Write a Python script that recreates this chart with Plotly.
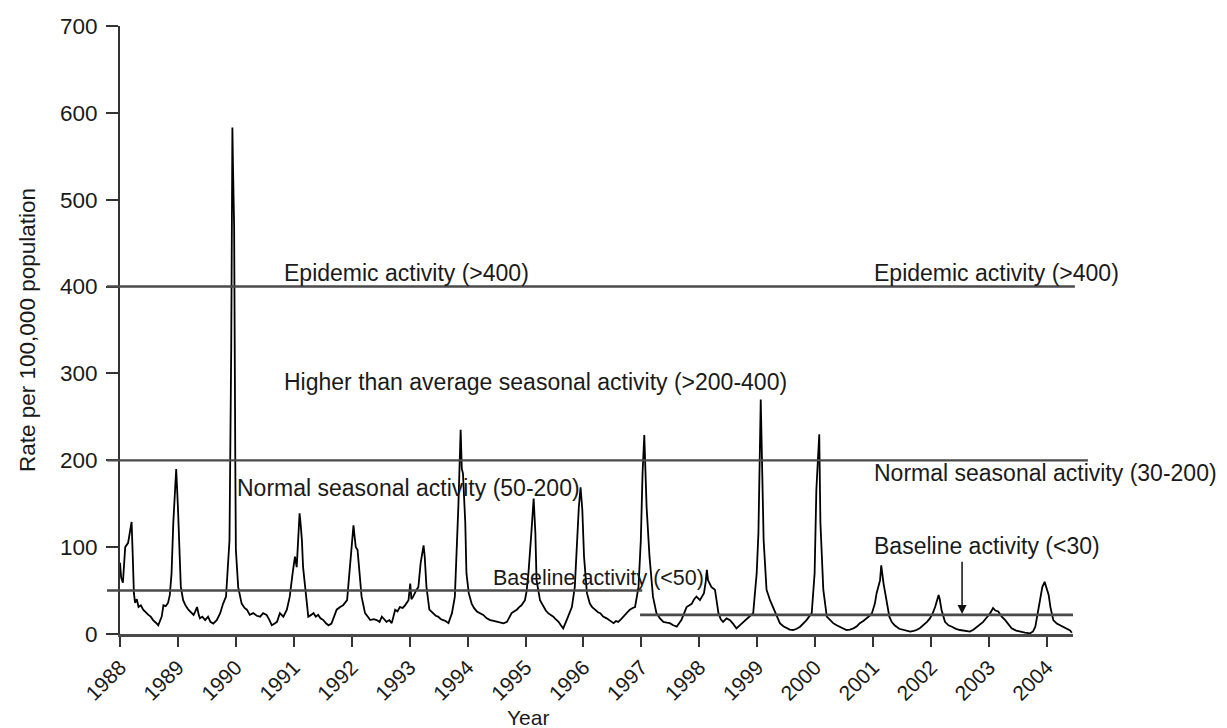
import plotly.graph_objects as go

# ---- data ----
years = [
    1988.00, 1988.02, 1988.05, 1988.09, 1988.14, 1988.17, 1988.20, 1988.22, 1988.24, 1988.26,
    1988.29, 1988.32, 1988.36, 1988.40, 1988.44, 1988.49, 1988.53, 1988.57, 1988.62, 1988.66,
    1988.72, 1988.75, 1988.79, 1988.83, 1988.86, 1988.89, 1988.92, 1988.97, 1989.00, 1989.02,
    1989.05, 1989.09, 1989.13, 1989.18, 1989.23, 1989.27, 1989.30, 1989.33, 1989.36, 1989.38,
    1989.42, 1989.47, 1989.52, 1989.56, 1989.61, 1989.67, 1989.73, 1989.78, 1989.83, 1989.86,
    1989.89, 1989.92, 1989.94, 1989.95, 1989.97, 1989.99, 1990.00, 1990.04, 1990.10, 1990.15,
    1990.19, 1990.24, 1990.30, 1990.36, 1990.42, 1990.47, 1990.53, 1990.58, 1990.62, 1990.67,
    1990.71, 1990.76, 1990.82, 1990.88, 1990.93, 1990.98, 1991.02, 1991.05, 1991.08, 1991.10,
    1991.12, 1991.14, 1991.16, 1991.21, 1991.25, 1991.30, 1991.34, 1991.38, 1991.42, 1991.46,
    1991.51, 1991.56, 1991.60, 1991.65, 1991.70, 1991.74, 1991.80, 1991.85, 1991.92, 1991.96,
    1992.00, 1992.03, 1992.05, 1992.07, 1992.10, 1992.13, 1992.17, 1992.23, 1992.27, 1992.32,
    1992.38, 1992.43, 1992.48, 1992.52, 1992.56, 1992.60, 1992.65, 1992.69, 1992.72, 1992.75,
    1992.79, 1992.83, 1992.88, 1992.92, 1992.98, 1993.01, 1993.03, 1993.06, 1993.12, 1993.15,
    1993.19, 1993.24, 1993.26, 1993.29, 1993.34, 1993.37, 1993.41, 1993.45, 1993.49, 1993.54,
    1993.58, 1993.62, 1993.67, 1993.73, 1993.78, 1993.81, 1993.84, 1993.88, 1993.90, 1993.92,
    1993.96, 1993.98, 1994.02, 1994.07, 1994.11, 1994.16, 1994.22, 1994.27, 1994.33, 1994.39,
    1994.45, 1994.50, 1994.56, 1994.62, 1994.68, 1994.72, 1994.76, 1994.80, 1994.85, 1994.89,
    1994.93, 1994.96, 1994.99, 1995.02, 1995.05, 1995.10, 1995.14, 1995.17, 1995.19, 1995.25,
    1995.31, 1995.35, 1995.39, 1995.44, 1995.48, 1995.52, 1995.57, 1995.61, 1995.65, 1995.71,
    1995.76, 1995.80, 1995.85, 1995.89, 1995.92, 1995.95, 1995.98, 1996.01, 1996.06, 1996.11,
    1996.15, 1996.20, 1996.25, 1996.29, 1996.34, 1996.40, 1996.46, 1996.52, 1996.56, 1996.60,
    1996.65, 1996.69, 1996.74, 1996.80, 1996.85, 1996.89, 1996.95, 1996.99, 1997.02, 1997.05,
    1997.09, 1997.14, 1997.20, 1997.26, 1997.32, 1997.38, 1997.44, 1997.49, 1997.55, 1997.61,
    1997.69, 1997.74, 1997.78, 1997.83, 1997.87, 1997.91, 1997.95, 1998.01, 1998.05, 1998.08,
    1998.11, 1998.13, 1998.15, 1998.18, 1998.21, 1998.27, 1998.33, 1998.37, 1998.41, 1998.47,
    1998.53, 1998.58, 1998.64, 1998.73, 1998.82, 1998.88, 1998.93, 1998.99, 1999.02, 1999.06,
    1999.11, 1999.16, 1999.22, 1999.31, 1999.39, 1999.45, 1999.51, 1999.56, 1999.62, 1999.68,
    1999.74, 1999.80, 1999.85, 1999.94, 1999.99, 2000.02, 2000.07, 2000.09, 2000.14, 2000.20,
    2000.25, 2000.31, 2000.37, 2000.43, 2000.49, 2000.54, 2000.60, 2000.66, 2000.72, 2000.77,
    2000.83, 2000.89, 2000.94, 2000.98, 2001.03, 2001.06, 2001.12, 2001.14, 2001.18, 2001.23,
    2001.28, 2001.32, 2001.37, 2001.45, 2001.52, 2001.58, 2001.64, 2001.70, 2001.75, 2001.81,
    2001.87, 2001.93, 2001.98, 2002.03, 2002.07, 2002.13, 2002.15, 2002.18, 2002.24, 2002.30,
    2002.36, 2002.43, 2002.50, 2002.58, 2002.67, 2002.73, 2002.79, 2002.85, 2002.90, 2002.96,
    2003.02, 2003.07, 2003.11, 2003.16, 2003.22, 2003.28, 2003.34, 2003.39, 2003.47, 2003.54,
    2003.62, 2003.71, 2003.76, 2003.80, 2003.86, 2003.92, 2003.96, 2004.00, 2004.03, 2004.06,
    2004.11, 2004.17, 2004.23, 2004.29, 2004.34, 2004.40, 2004.43,
]
rates = [
    82, 65, 59, 100, 105, 115, 129, 90, 47, 36,
    40, 31, 33, 28, 25, 22, 20, 16, 13, 10,
    20, 33, 32, 36, 45, 70, 128, 190, 146, 97,
    54, 39, 33, 28, 25, 22, 26, 31, 22, 18,
    20, 16, 20, 14, 12, 16, 24, 35, 43, 70,
    108, 330, 583, 540, 470, 200, 97, 54, 35, 30,
    28, 22, 24, 21, 20, 24, 22, 16, 10, 12,
    14, 24, 20, 28, 43, 70, 89, 77, 120, 139,
    125, 108, 77, 43, 20, 22, 24, 20, 22, 18,
    16, 12, 10, 12, 22, 28, 31, 33, 39, 70,
    108, 125, 112, 100, 97, 70, 43, 24, 20, 16,
    17, 16, 14, 20, 17, 14, 16, 12.5, 20, 28,
    26, 31, 30, 33, 39, 58, 40, 43, 51, 54,
    82, 102, 89, 54, 28, 26, 24, 21, 20, 17,
    16, 15, 12.5, 24, 43, 89, 146, 235, 190, 185,
    128, 70, 47, 35, 30, 26, 24, 22, 18, 16,
    15, 14, 13, 12.3, 14, 20, 24, 26, 28, 31,
    33, 36, 39, 50, 70, 116, 156, 116, 62, 39,
    31, 27, 24, 22, 20, 17, 14, 10, 6.5, 16,
    24, 31, 54, 108, 146, 169, 143, 89, 47, 35,
    31, 28, 25, 24, 20, 18, 15, 12.5, 15, 14,
    17, 20, 24, 28, 30, 31, 54, 108, 185, 229,
    146, 89, 43, 24, 18, 14, 13, 12.5, 10, 8.4,
    16, 25, 31, 33, 35, 40, 43, 39, 44, 47,
    60, 74, 62, 58, 54, 51, 24, 17, 14, 18,
    16, 12, 6.5, 12, 18, 21, 24, 70, 116, 270,
    108, 51, 39, 24, 12.5, 9, 6.5, 5, 4.6, 6,
    8.4, 12, 16, 24, 70, 166, 230, 128, 51, 20,
    16, 12.5, 10, 8.4, 6, 4.6, 5, 6.5, 9, 12.5,
    15, 18, 21, 24, 35, 47, 62, 79, 58, 39,
    20, 14, 10, 6, 4.6, 3.5, 2.7, 3.5, 4.6, 7,
    10, 14, 18, 24, 31, 45, 40, 28, 14, 10,
    8.4, 6, 4.6, 3.5, 2.7, 5, 8.4, 11, 14, 19,
    24, 30, 27, 26, 20, 16, 10, 6.5, 4, 2.7,
    1.5, 0.8, 3, 8.4, 31, 54, 60, 51, 45, 31,
    16, 12, 10, 8, 6.5, 4, 1.5,
]
tick_years = list(range(1988, 2005))
tick_labels = [str(y) for y in tick_years]

# threshold levels
epidemic_level = 400
higher_level = 200
baseline_old = 50
baseline_new = 22

FONT = "Liberation Sans, Arial, Helvetica, sans-serif"
TXT = "#1a1a1a"
LINEC = "#4a4a4a"

fig = go.Figure()
fig.add_trace(go.Scatter(x=years, y=rates, mode="lines",
                         line=dict(color="#000000", width=1.8), showlegend=False,
                         hoverinfo="skip"))

def hline(level, x0, x1, width=2.6, color=LINEC):
    fig.add_shape(type="line", xref="paper", yref="y", x0=x0, x1=x1, y0=level, y1=level,
                  line=dict(color=color, width=width), layer="above")

hline(epidemic_level, -0.0136, 1.002)
hline(higher_level, -0.0136, 1.0157, width=2.2)
hline(baseline_old, -0.0136, 0.548)
hline(baseline_new, 0.5457, 1.0)

def note(text, x, y, size=23, font=FONT):
    fig.add_annotation(x=x, y=y, xref="x", yref="y", text=text, showarrow=False,
                       xanchor="left", yanchor="middle",
                       font=dict(family=font, size=size, color=TXT))

note("Epidemic activity (&gt;400)", 1990.80, 416)
note("Epidemic activity (&gt;400)", 2000.98, 416)
note("Higher than average seasonal activity (&gt;200-400)", 1990.80, 290)
note("Normal seasonal activity (50-200)", 1989.99, 168)
note("Normal seasonal activity (30-200)", 2000.98, 185)
note("Baseline activity (&lt;50)", 1994.40, 64, size=21.5)
note("Baseline activity (&lt;30)", 2000.98, 101)

# arrow pointing to the new baseline line
fig.add_annotation(x=2002.535, y=23, ax=2002.535, ay=85, xref="x", yref="y",
                   axref="x", ayref="y", text="", showarrow=True,
                   arrowhead=2, arrowsize=1.2, arrowwidth=1.5, arrowcolor="#111")

# axis titles
fig.add_annotation(x=1995.04, y=-0.138, xref="x", yref="paper", text="Year",
                   showarrow=False, xanchor="center", yanchor="middle",
                   font=dict(family=FONT, size=21, color=TXT))
fig.add_annotation(x=-0.0976, y=0.5, xref="paper", yref="paper",
                   text="Rate per 100,000 population", textangle=-90,
                   showarrow=False, xanchor="center", yanchor="middle",
                   font=dict(family=FONT, size=22.5, color=TXT))

fig.update_layout(
    width=1227, height=728,
    margin=dict(l=120, r=154, t=26, b=94),
    paper_bgcolor="white", plot_bgcolor="white",
    showlegend=False,
    font=dict(family=FONT, size=21, color=TXT),
)
fig.update_xaxes(range=[1988, 2004.45], tickmode="array", tickvals=tick_years,
                 ticktext=tick_labels, tickangle=-45, ticks="outside", ticklen=10,
                 tickwidth=2, tickcolor="#333", showline=True, linewidth=2.5,
                 linecolor=LINEC, showgrid=False, zeroline=False,
                 tickfont=dict(family=FONT, size=21, color=TXT))
fig.update_yaxes(range=[0, 700], tickmode="array", tickvals=list(range(0, 701, 100)),
                 ticks="outside", ticklen=12, tickwidth=2, tickcolor="#333",
                 showline=True, linewidth=2, linecolor="#333", showgrid=False,
                 zeroline=False, ticklabelstandoff=4,
                 tickfont=dict(family=FONT, size=22.5, color=TXT))

fig.write_html("out.html", config={"displayModeBar": False},
               post_script="document.body.style.margin='0';document.body.style.overflow='hidden';")
